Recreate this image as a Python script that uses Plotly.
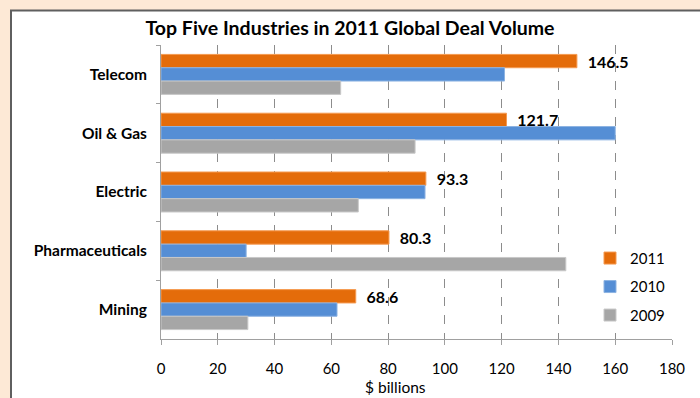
import plotly.graph_objects as go

categories = ["Telecom", "Oil & Gas", "Electric", "Pharmaceuticals", "Mining"]
v2011 = [146.5, 121.7, 93.3, 80.3, 68.6]
v2010 = [121.0, 160.0, 93.0, 30.0, 62.0]
v2009 = [63.3, 89.5, 69.5, 142.6, 30.6]
series_names = ["2011", "2010", "2009"]
x_ticks = [0, 20, 40, 60, 80, 100, 120, 140, 160, 180]

FONT = "Lato"
colors = ["#E46C0A", "#558ED5", "#A6A6A6"]
borders = ["#F59A50", "#8DB3E2", "#C8C8C8"]

fig = go.Figure()
for i, (name, vals) in enumerate(zip(series_names, [v2011, v2010, v2009])):
    kw = {}
    if i == 0:
        kw = dict(text=vals, texttemplate="  %{x}", textposition="outside",
                  textfont=dict(family=FONT, size=16, color="black", weight="bold"),
                  cliponaxis=False, constraintext="none")
    fig.add_trace(go.Bar(
        y=categories, x=vals, name=name, orientation="h",
        marker=dict(color=colors[i], line=dict(color=borders[i], width=1)),
        legendgroup=name, **kw))

plot_l, plot_r, plot_t, plot_b = 161, 672, 45, 339.3
W, H = 700, 398
pw, ph = plot_r - plot_l, plot_b - plot_t

def px_x(x):
    return (x - plot_l) / pw

def px_y(y):
    return (plot_b - y) / ph

fig.update_layout(
    width=W, height=H,
    margin=dict(l=plot_l, r=W - plot_r, t=plot_t, b=H - plot_b, pad=0),
    paper_bgcolor="#FDE9D6",
    plot_bgcolor="rgba(0,0,0,0)",
    barmode="group", bargap=0.32, bargroupgap=0,
    font=dict(family=FONT, size=15, color="black"),
    title=dict(text="<b>Top Five Industries in 2011 Global Deal Volume</b>",
               x=0.5, xanchor="center", y=1 - 28 / H, yanchor="middle",
               font=dict(family=FONT, size=19.5, color="black")),
    showlegend=True,
    legend=dict(x=px_x(590), xanchor="left", y=px_y(242), yanchor="top",
                bgcolor="white", font=dict(family=FONT, size=15),
                tracegroupgap=6, traceorder="grouped", itemwidth=30),
    shapes=[dict(type="rect", xref="paper", yref="paper",
                 x0=px_x(11), x1=px_x(720), y0=px_y(10.5), y1=px_y(420),
                 fillcolor="white", line=dict(color="#5F5F5F", width=2),
                 layer="below")],
    annotations=[dict(text="$ billions", xref="paper", yref="paper",
                      x=px_x(395), y=px_y(387.5), xanchor="center", yanchor="middle",
                      showarrow=False, font=dict(family=FONT, size=15.5))],
)
fig.update_xaxes(range=[0, 180], tickvals=x_ticks, showgrid=True,
                 gridcolor="#8C8C8C", griddash="dash", gridwidth=1,
                 showline=True, linecolor="#A0A0A0", linewidth=1,
                 ticks="outside", ticklen=5, tickcolor="#A0A0A0",
                 ticklabelstandoff=11, zeroline=False,
                 tickfont=dict(family=FONT, size=15))
fig.update_yaxes(categoryorder="array", categoryarray=categories,
                 autorange="reversed", showline=True, linecolor="#A0A0A0",
                 linewidth=1, ticks="outside", tickson="boundaries",
                 ticklen=4, tickcolor="#A0A0A0", ticklabelstandoff=10,
                 showgrid=False,
                 tickfont=dict(family=FONT, size=15.5, weight="bold"))

fig.write_html("out.html")
